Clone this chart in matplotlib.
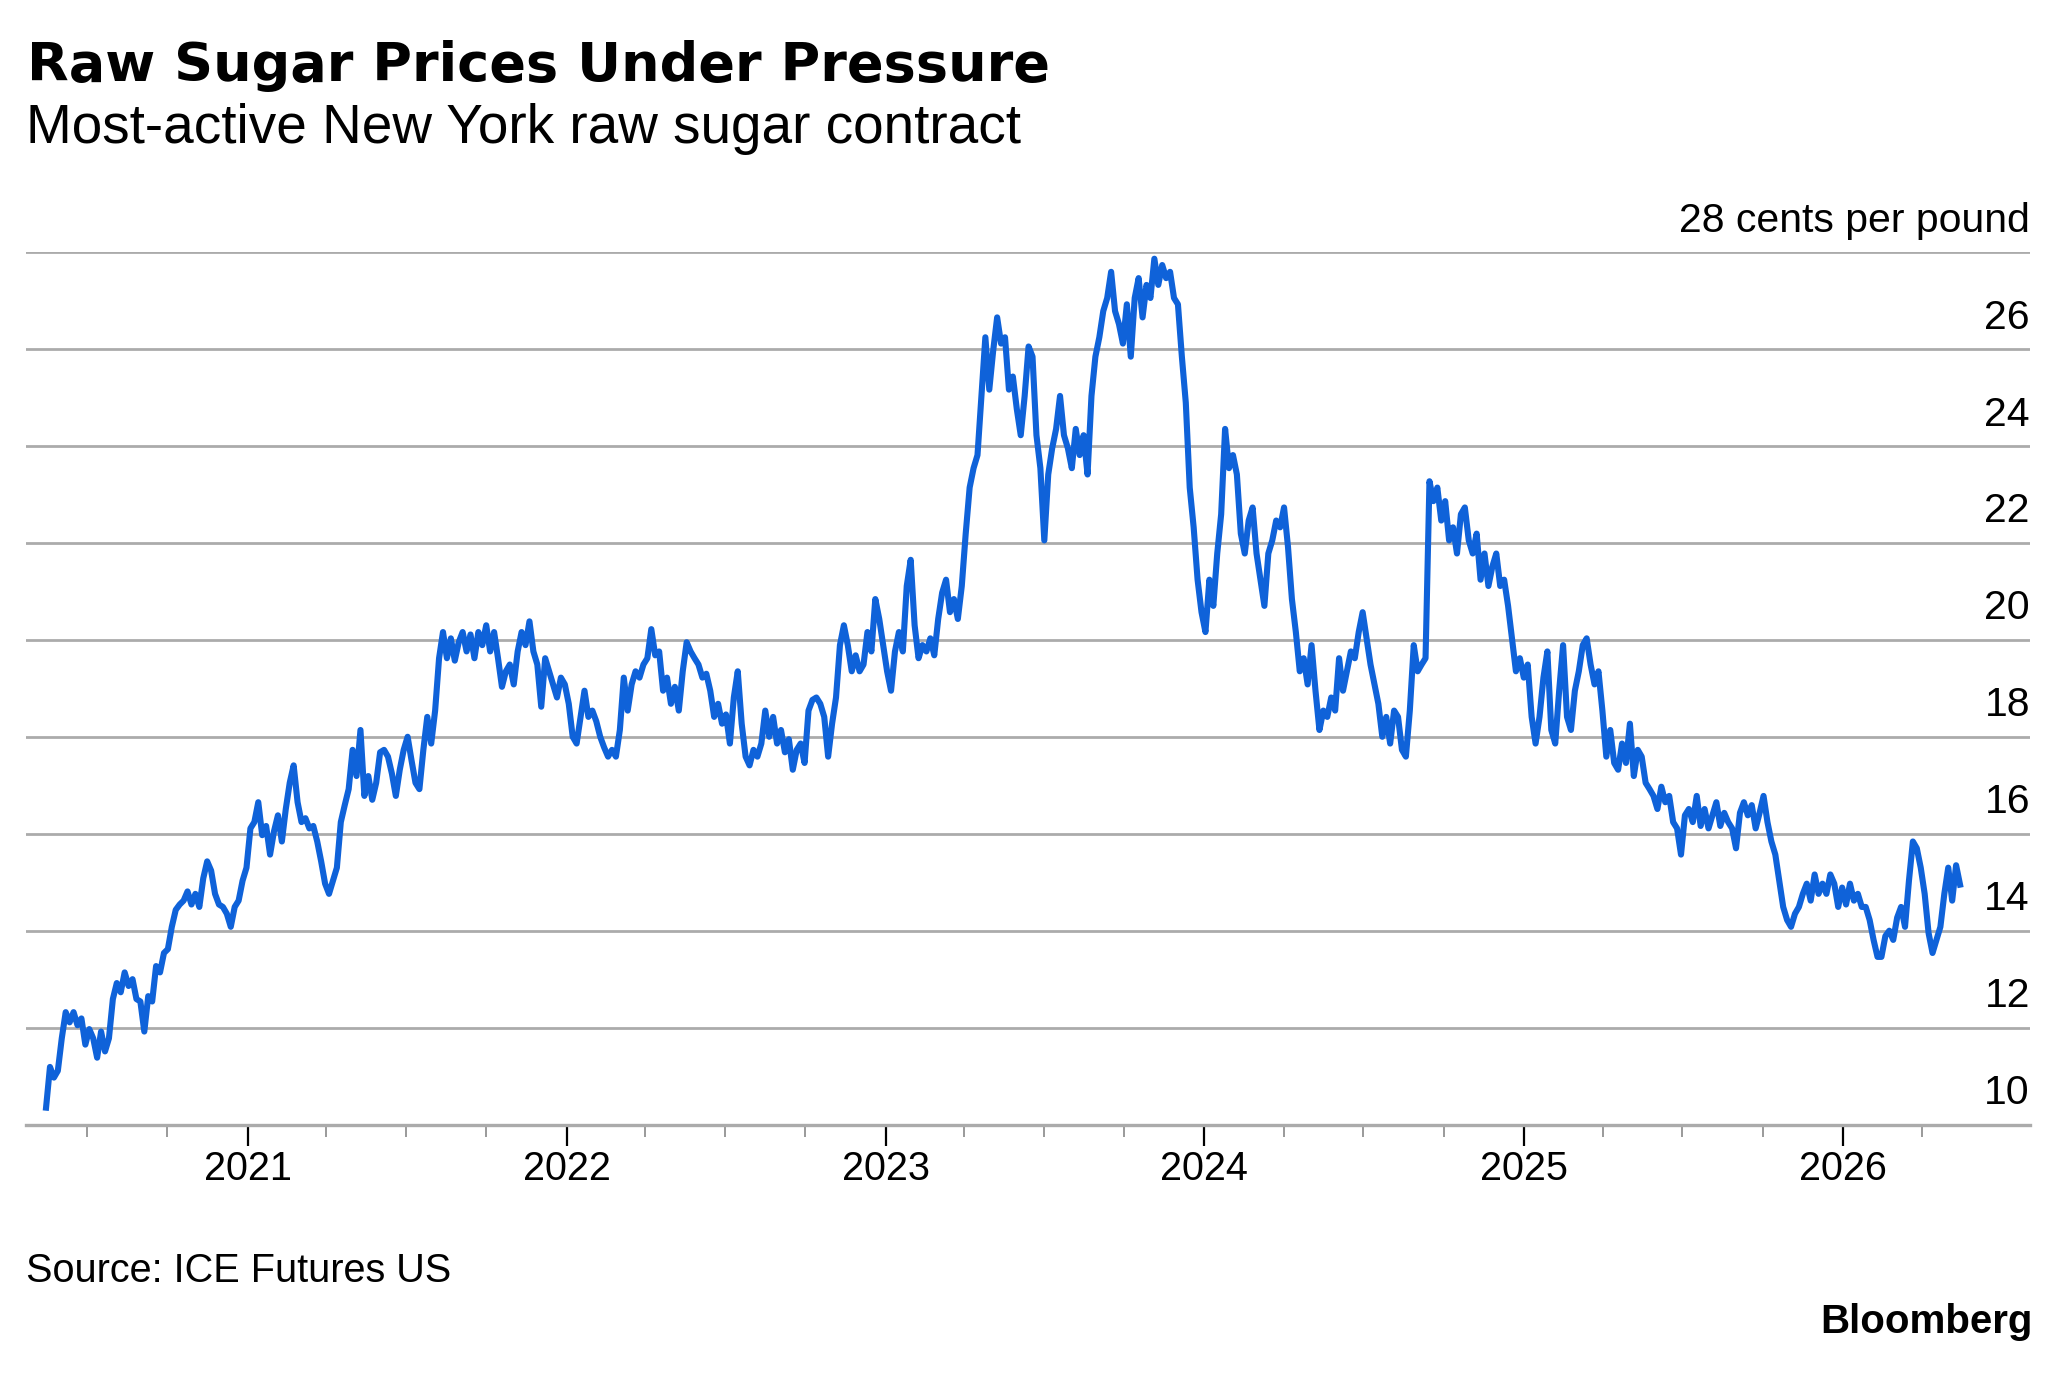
import numpy as np
import pandas as pd
import matplotlib
matplotlib.use("Agg")
import matplotlib.pyplot as plt
import matplotlib.dates as mdates

# Precio del contrato más activo de azúcar crudo en Nueva York (centavos por libra)
fecha_inicio = "2020-05-15"
fecha_fin = "2026-05-15"

precio = [
    10.35, 11.19, 10.97, 11.11, 11.78, 12.32, 12.11, 12.32, 12.05, 12.19, 11.65, 11.97,
    11.78, 11.38, 11.92, 11.51, 11.78, 12.59, 12.92, 12.73, 13.14, 12.86, 13.00, 12.59,
    12.54, 11.92, 12.65, 12.54, 13.27, 13.14, 13.54, 13.62, 14.08, 14.43, 14.54, 14.62,
    14.81, 14.54, 14.76, 14.49, 15.08, 15.43, 15.24, 14.76, 14.54, 14.49, 14.35, 14.08,
    14.49, 14.62, 15.03, 15.30,
    16.11, 16.24, 16.65, 15.97, 16.16, 15.57, 16.05, 16.38, 15.84, 16.51, 17.05, 17.41,
    16.65, 16.24, 16.32, 16.11, 16.16, 15.84, 15.43, 14.97, 14.76, 15.03, 15.30, 16.24,
    16.59, 16.92, 17.73, 17.19, 18.14, 16.78, 17.19, 16.70, 17.05, 17.68, 17.73, 17.59,
    17.24, 16.78, 17.32, 17.73, 18.00, 17.51, 17.05, 16.92, 17.73, 18.41, 17.86, 18.54,
    19.62, 20.16, 19.62, 20.03, 19.57, 19.95, 20.16, 19.76, 20.11, 19.62, 20.16, 19.89,
    20.30, 19.76, 20.16, 19.62, 19.03, 19.35, 19.49, 19.08, 19.76, 20.16, 19.89, 20.38,
    19.76, 19.49, 18.62, 19.62, 19.35, 19.08, 18.81, 19.22, 19.08, 18.68, 18.00, 17.86,
    18.41, 18.95, 18.41, 18.54, 18.32, 18.00, 17.78, 17.59, 17.73, 17.59, 18.14, 19.22,
    18.54, 19.08, 19.35, 19.22, 19.49, 19.62, 20.22, 19.68, 19.76, 18.95, 19.22, 18.68,
    19.03, 18.54, 19.35, 19.95, 19.76, 19.62, 19.49, 19.22, 19.30, 18.95, 18.41, 18.68,
    18.27, 18.46, 17.86, 18.81, 19.35, 18.27, 17.59, 17.41, 17.73, 17.59, 17.86, 18.54,
    18.00, 18.41, 17.86, 18.14, 17.68, 17.95, 17.32, 17.73, 17.86, 17.46, 18.54, 18.76,
    18.81, 18.68, 18.41, 17.59, 18.27, 18.81, 19.89, 20.30, 19.89, 19.35, 19.68, 19.35,
    19.49, 20.16, 19.76, 20.84, 20.43, 19.89, 19.35, 18.95, 19.76, 20.16, 19.76, 21.11,
    21.65, 20.30, 19.62, 19.89, 19.76, 20.03, 19.68, 20.43, 20.97, 21.24, 20.57, 20.84,
    20.43, 21.11, 22.19, 23.14, 23.54, 23.81, 25.03, 26.24, 25.16, 25.97, 26.65, 26.11,
    26.24, 25.16, 25.43, 24.76, 24.22, 25.03, 26.05, 25.84, 24.22, 23.54, 22.05, 23.41,
    23.95, 24.35, 25.03, 24.22, 23.95, 23.54, 24.35, 23.81, 24.22, 23.41, 25.03, 25.84,
    26.24, 26.78, 27.05, 27.59, 26.78, 26.51, 26.11, 26.92, 25.84, 27.05, 27.46, 26.65,
    27.32, 27.05, 27.86, 27.32, 27.73, 27.46, 27.59, 27.05, 26.92, 25.84, 24.89, 23.14,
    22.32, 21.24, 20.57, 20.16, 21.24, 20.70, 21.78, 22.59, 24.35, 23.54, 23.81, 23.41,
    22.19, 21.78, 22.46, 22.73, 21.78, 21.24, 20.70, 21.78, 22.05, 22.46, 22.32, 22.73,
    21.92, 20.84, 20.16, 19.35, 19.62, 19.08, 19.89, 18.95, 18.14, 18.54, 18.41, 18.81,
    18.54, 19.62, 18.95, 19.35, 19.76, 19.62, 20.16, 20.57, 20.03, 19.49, 19.08, 18.68,
    18.00, 18.41, 17.86, 18.54, 18.41, 17.73, 17.59, 18.54, 19.89, 19.35, 19.49, 19.62,
    23.27, 22.86, 23.14, 22.46, 22.86, 22.05, 22.32, 21.78, 22.59, 22.73, 22.05, 21.78,
    22.19, 21.24, 21.78, 21.11, 21.51, 21.78, 21.11, 21.24, 20.70, 20.03, 19.35, 19.62,
    19.22, 19.49, 18.41, 17.86, 18.41, 19.22, 19.76, 18.14, 17.86, 18.95, 19.89, 18.41,
    18.14, 18.95, 19.35, 19.89, 20.03, 19.49, 19.08, 19.35, 18.54, 17.59, 18.14, 17.46,
    17.32, 17.86, 17.46, 18.27, 17.19, 17.73, 17.59, 17.05, 16.92, 16.78, 16.51, 16.97,
    16.65, 16.78, 16.24, 16.11, 15.57, 16.38, 16.51, 16.24, 16.78, 16.16, 16.51, 16.11,
    16.38, 16.65, 16.16, 16.43, 16.24, 16.11, 15.70, 16.43, 16.65, 16.38, 16.59, 16.11,
    16.43, 16.78, 16.24, 15.84, 15.57, 15.03, 14.49, 14.22, 14.08, 14.35, 14.49, 14.76,
    14.97, 14.62, 15.16, 14.76, 14.97, 14.76, 15.16, 14.97, 14.49, 14.89, 14.54, 14.97,
    14.62, 14.76, 14.49, 14.49, 14.22, 13.81, 13.46, 13.46, 13.89, 14.00, 13.81, 14.27,
    14.49, 14.08, 15.03, 15.84, 15.70, 15.30, 14.76, 13.95, 13.54, 13.81, 14.08, 14.76,
    15.30, 14.62, 15.35, 14.95,
]

fechas = pd.date_range(fecha_inicio, fecha_fin, periods=len(precio))

valores_y = [10, 12, 14, 16, 18, 20, 22, 24, 26, 28]
etiquetas_y = ["10", "12", "14", "16", "18", "20", "22", "24", "26", "28 cents per pound"]

titulo = "Raw Sugar Prices Under Pressure"
subtitulo = "Most-active New York raw sugar contract"
fuente = "Source: ICE Futures US"

azul = "#0f62d9"
gris = "#ababab"
letra = "Liberation Sans"

fig = plt.figure(figsize=(20.6, 13.73), dpi=100)
ax = fig.add_axes([0.0126, 0.1809, 0.9728, 0.6356])

ax.plot(fechas, precio, color=azul, lw=4.4, solid_joinstyle="round", clip_on=False, zorder=3)

ax.set_xlim(pd.Timestamp("2020-04-22"), pd.Timestamp("2026-08-03"))
ax.set_ylim(10, 28)

# rejilla horizontal
for v in valores_y[1:]:
    ax.axhline(v, color=gris, lw=2.0, zorder=1)
for s in ["top", "left", "right"]:
    ax.spines[s].set_visible(False)
ax.spines["bottom"].set_color(gris)
ax.spines["bottom"].set_linewidth(2.4)
ax.set_yticks([])

# etiquetas del eje y, encima de cada linea
for v, t in zip(valores_y, etiquetas_y):
    ax.text(1.0, v + 0.42, t, transform=ax.get_yaxis_transform(), ha="right",
            va="baseline", fontsize=29.5, family=letra, color="black")

# marcas trimestrales hasta abril de 2026
trimestres = pd.date_range("2020-07-01", "2026-04-01", freq="QS-JAN")
ax.xaxis.set_major_locator(mdates.YearLocator())
ax.xaxis.set_major_formatter(mdates.DateFormatter("%Y"))
ax.xaxis.set_minor_locator(plt.FixedLocator(mdates.date2num(trimestres)))
ax.tick_params(axis="x", which="major", length=15, width=1.6, color="black",
               pad=3, labelsize=28.5)
ax.tick_params(axis="x", which="minor", length=8.5, width=1.4, color="#9a9a9a")
for lab in ax.get_xticklabels():
    lab.set_family(letra)

fig.text(0.013, 0.941, titulo, fontsize=39, fontweight="bold", family="DejaVu Sans",
         va="baseline")
fig.text(0.0125, 0.896, subtitulo, fontsize=39.5, family=letra, va="baseline")
fig.text(0.0125, 0.0663, fuente, fontsize=28.5, family=letra, va="baseline")
fig.text(0.9866, 0.0291, "Bloomberg", fontsize=29, fontweight="bold", family=letra,
         ha="right", va="baseline")

fig.savefig("out.png", dpi=100)
